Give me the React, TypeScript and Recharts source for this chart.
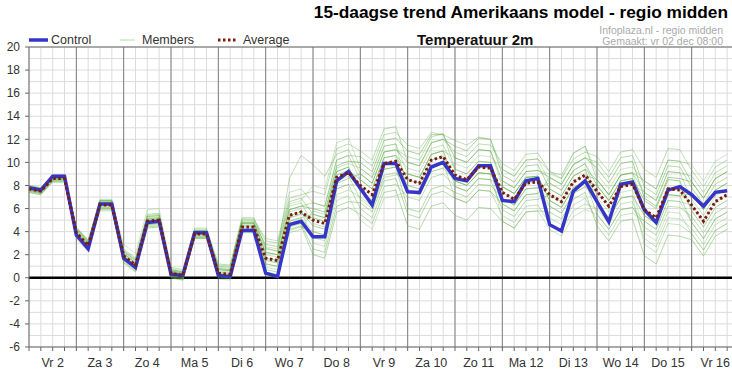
import { LineChart, Line, XAxis, YAxis, CartesianGrid, ReferenceLine } from 'recharts';

// 6-uurs stappen: 4 punten per dag, vanaf vr 2 dec 00:00
const dayLabels = ['Vr 2', 'Za 3', 'Zo 4', 'Ma 5', 'Di 6', 'Wo 7', 'Do 8', 'Vr 9', 'Za 10', 'Zo 11', 'Ma 12', 'Di 13', 'Wo 14', 'Do 15', 'Vr 16'];
const yTicks = [-6, -4, -2, 0, 2, 4, 6, 8, 10, 12, 14, 16, 18, 20];

const control = [
  7.8, 7.6, 8.8, 8.8, 3.7, 2.5, 6.4, 6.4, 1.7, 0.9, 4.8, 4.9, 0.3, 0.2, 3.9, 3.9, 0.2, 0.1, 4.1, 4.1,
  0.4, 0.1, 4.6, 4.9, 3.55, 3.55, 8.4, 9.2, 7.75, 6.3, 9.9, 9.9, 7.45, 7.4, 9.6, 10.0, 8.6, 8.4, 9.7, 9.7,
  6.7, 6.6, 8.4, 8.6, 4.6, 4.05, 7.5, 8.4, 6.6, 4.85, 8.1, 8.3, 5.9, 4.8, 7.6, 7.9, 7.2, 6.2, 7.4, 7.55,
];

const average = [
  7.7, 7.5, 8.6, 8.6, 3.9, 2.8, 6.3, 6.3, 1.9, 1.1, 4.9, 5.0, 0.4, 0.2, 3.8, 3.8, 0.4, 0.3, 4.4, 4.4,
  1.7, 1.5, 5.4, 5.7, 5.0, 4.7, 8.7, 9.1, 8.0, 7.2, 9.9, 10.1, 8.5, 8.2, 10.2, 10.5, 8.9, 8.5, 9.6, 9.5,
  7.4, 6.8, 8.2, 8.3, 7.2, 6.6, 8.3, 8.9, 7.5, 6.2, 7.9, 8.1, 5.9, 5.2, 7.7, 7.6, 6.3, 4.9, 6.6, 7.2,
];

const m01 = [7.9, 7.7, 8.8, 8.8, 4.2, 3.1, 6.6, 6.6, 2.4, 1.6, 5.4, 5.5, 0.6, 0.4, 4.0, 4.0, 1.0, 0.9, 5.0, 5.0, 3.2, 3.0, 6.9, 7.2, 7.5, 7.2, 11.2, 11.6, 11.0, 10.2, 12.9, 13.1, 10.0, 9.7, 11.7, 12.0, 10.9, 10.5, 11.6, 11.5, 9.9, 9.3, 10.7, 10.8, 9.2, 8.6, 10.3, 10.9, 10.5, 9.2, 10.9, 11.1, 9.4, 8.7, 11.2, 11.1, 9.3, 7.9, 9.6, 10.2];
const m02 = [7.5, 7.3, 8.4, 8.4, 3.6, 2.5, 6.0, 6.0, 1.3, 0.5, 4.3, 4.4, 0.0, -0.2, 3.4, 3.4, 0.1, 0.0, 4.1, 4.1, 0.5, 0.3, 4.2, 4.5, 2.0, 1.7, 5.7, 6.1, 5.5, 4.7, 7.4, 7.6, 4.5, 4.2, 6.2, 6.5, 5.4, 5.0, 6.1, 6.0, 4.9, 4.3, 5.7, 5.8, 5.7, 5.1, 6.8, 7.4, 4.5, 3.2, 4.9, 5.1, 1.9, 1.2, 3.7, 3.6, 3.3, 1.9, 3.6, 4.2];
const m03 = [7.7, 7.5, 8.6, 8.6, 4.3, 3.2, 6.7, 6.7, 2.1, 1.3, 5.1, 5.2, 0.7, 0.5, 4.1, 4.1, 0.7, 0.6, 4.7, 4.7, 2.2, 2.0, 5.9, 6.2, 6.0, 5.7, 9.7, 10.1, 10.0, 9.2, 11.9, 12.1, 11.0, 10.7, 12.4, 12.4, 10.4, 10.0, 11.1, 11.0, 8.4, 7.8, 9.2, 9.3, 8.7, 8.1, 9.8, 10.4, 9.5, 8.2, 9.9, 10.1, 6.9, 6.2, 8.7, 8.6, 8.3, 6.9, 8.6, 9.2];
const m04 = [7.6, 7.4, 8.5, 8.5, 3.4, 2.3, 5.8, 5.8, 1.5, 0.7, 4.5, 4.6, 0.2, 0.0, 3.6, 3.6, -0.1, -0.2, 3.9, 3.9, 0.9, 0.7, 4.6, 4.9, 3.5, 3.2, 7.2, 7.6, 7.0, 6.2, 8.9, 9.1, 8.0, 7.7, 9.7, 10.0, 6.9, 6.5, 7.6, 7.5, 5.4, 4.8, 6.2, 6.3, 4.7, 4.1, 5.8, 6.4, 6.0, 4.7, 6.4, 6.6, 3.4, 2.7, 5.2, 5.1, 4.3, 2.9, 4.6, 5.2];
const m05 = [8.0, 7.8, 8.9, 8.9, 4.1, 3.0, 6.5, 6.5, 2.9, 2.1, 5.9, 6.0, 0.8, 0.6, 4.2, 4.2, 0.9, 0.8, 4.9, 4.9, 2.7, 2.5, 6.4, 6.7, 8.0, 7.7, 11.7, 12.1, 9.5, 8.7, 11.4, 11.6, 9.0, 8.7, 10.7, 11.0, 8.4, 8.0, 9.1, 9.0, 8.4, 7.8, 9.2, 9.3, 9.0, 8.6, 10.8, 11.4, 9.0, 7.7, 9.4, 9.6, 8.4, 7.7, 10.2, 10.1, 9.8, 8.4, 10.1, 10.7];
const m06 = [7.7, 7.5, 8.6, 8.6, 3.9, 2.8, 6.3, 6.3, 1.9, 1.1, 4.9, 5.0, 0.5, 0.3, 3.9, 3.9, 0.4, 0.3, 4.4, 4.4, 1.7, 1.5, 5.4, 5.7, 4.5, 4.2, 8.2, 8.6, 9.0, 8.2, 10.9, 11.1, 10.0, 9.7, 11.7, 12.0, 11.4, 11.0, 12.1, 12.0, 8.9, 8.3, 9.7, 9.8, 7.7, 7.1, 8.8, 9.4, 6.5, 5.2, 6.9, 7.1, 5.4, 4.7, 7.2, 7.1, 7.3, 5.9, 7.6, 8.2];
const m07 = [7.4, 7.2, 8.3, 8.3, 3.7, 2.6, 6.1, 6.1, 1.6, 0.8, 4.6, 4.7, 0.1, -0.1, 3.5, 3.5, 0.0, -0.1, 4.0, 4.0, 0.4, 0.2, 4.1, 4.4, 4.0, 3.7, 7.7, 8.1, 6.0, 5.2, 7.9, 8.1, 7.0, 6.7, 8.7, 9.0, 7.9, 7.5, 8.6, 8.5, 7.9, 7.3, 8.7, 8.8, 6.7, 6.1, 7.8, 8.4, 5.5, 4.2, 5.9, 6.1, 4.4, 3.7, 6.2, 6.1, 5.3, 3.9, 5.6, 6.2];
const m08 = [7.8, 7.6, 8.7, 8.7, 4.4, 3.3, 6.8, 6.8, 2.3, 1.5, 5.3, 5.4, 0.6, 0.4, 4.0, 4.0, 1.1, 1.0, 5.1, 5.1, 3.4, 3.2, 7.4, 7.7, 6.5, 6.2, 10.2, 10.6, 8.5, 7.7, 10.4, 10.6, 9.5, 9.2, 11.2, 11.5, 9.4, 9.0, 10.1, 10.0, 6.4, 5.8, 7.2, 7.3, 6.2, 5.6, 7.3, 7.9, 7.5, 6.2, 7.9, 8.1, 7.4, 6.7, 9.2, 9.1, 6.8, 5.4, 7.1, 7.7];
const m09 = [7.6, 7.4, 8.5, 8.5, 3.9, 2.8, 6.3, 6.3, 1.7, 0.9, 4.7, 4.8, 0.3, 0.1, 3.7, 3.7, 0.2, 0.1, 4.2, 4.2, 1.2, 1.0, 4.9, 5.2, 5.5, 5.2, 9.2, 9.6, 7.5, 6.7, 9.4, 9.6, 6.0, 5.7, 7.7, 8.0, 7.4, 7.0, 8.1, 8.0, 6.9, 6.3, 7.7, 7.8, 8.2, 7.6, 9.3, 9.9, 8.0, 6.7, 8.4, 8.6, 5.4, 4.7, 7.2, 7.1, 4.8, 3.4, 5.1, 5.7];
const m10 = [7.9, 7.7, 8.8, 8.8, 3.6, 2.5, 6.0, 6.0, 2.1, 1.3, 5.1, 5.2, 0.4, 0.2, 3.8, 3.8, 0.6, 0.5, 4.6, 4.6, 2.0, 1.8, 5.7, 6.0, 3.0, 2.7, 6.7, 7.1, 5.0, 4.2, 6.9, 7.1, 7.5, 7.2, 9.2, 9.5, 9.9, 9.5, 10.6, 10.5, 9.4, 8.8, 10.2, 10.3, 8.2, 7.6, 9.3, 9.9, 7.0, 5.7, 7.4, 7.6, 3.9, 3.2, 5.7, 5.6, 3.8, 2.4, 4.1, 4.7];
const m11 = [7.8, 7.6, 8.7, 8.7, 4.2, 3.1, 6.6, 6.6, 2.5, 1.7, 5.5, 5.6, 0.9, 0.7, 4.3, 4.3, 1.2, 1.1, 5.2, 5.2, 2.6, 2.3, 8.6, 10.6, 9.8, 8.8, 10.7, 11.1, 9.0, 8.2, 10.9, 11.1, 10.5, 10.2, 12.2, 12.5, 9.4, 9.0, 10.1, 10.0, 6.9, 6.3, 7.7, 7.8, 7.7, 7.1, 8.8, 9.4, 8.5, 7.2, 8.9, 9.1, 5.9, 5.2, 7.7, 7.6, 7.3, 5.9, 7.6, 8.2];
const m12 = [7.7, 7.5, 8.6, 8.6, 4.0, 2.9, 6.4, 6.4, 1.8, 1.0, 4.8, 4.9, 0.4, 0.2, 3.8, 3.8, 0.5, 0.4, 4.5, 4.5, 1.5, 1.3, 5.2, 5.5, 5.2, 4.9, 8.9, 9.3, 8.5, 7.7, 10.4, 10.6, 8.5, 8.2, 10.2, 10.5, 8.4, 8.0, 9.1, 9.0, 7.9, 7.3, 8.7, 8.8, 6.7, 6.1, 7.8, 8.4, 8.0, 6.7, 8.4, 8.6, 6.7, 6.0, 8.5, 8.4, 5.8, 4.4, 6.1, 6.7];
const m13 = [7.9, 7.7, 8.8, 8.8, 4.0, 2.9, 6.4, 6.4, 2.2, 1.4, 5.2, 5.3, 0.2, 0.0, 3.6, 3.6, 0.7, 0.6, 4.7, 4.7, 2.5, 2.3, 6.2, 6.5, 4.7, 4.4, 8.4, 8.8, 6.8, 6.0, 8.7, 8.9, 9.0, 8.7, 10.7, 11.0, 10.4, 10.0, 11.1, 11.0, 7.9, 7.3, 8.7, 8.8, 5.2, 4.6, 6.3, 6.9, 5.0, 3.7, 5.4, 5.6, 4.9, 4.2, 6.7, 6.6, 6.3, 4.9, 6.6, 7.2];
const m14 = [7.5, 7.3, 8.4, 8.4, 3.5, 2.4, 5.9, 5.9, 1.4, 0.6, 4.4, 4.5, 0.1, -0.1, 3.5, 3.5, 0.2, 0.1, 4.2, 4.2, 0.7, 0.5, 4.4, 4.7, 2.5, 2.2, 6.2, 6.6, 6.5, 5.7, 8.4, 8.6, 5.5, 5.2, 7.2, 7.5, 6.9, 6.5, 7.6, 7.5, 6.4, 5.8, 7.2, 7.3, 8.7, 8.1, 9.8, 10.4, 10.0, 8.7, 10.4, 10.6, 7.9, 7.2, 9.7, 9.6, 7.8, 6.4, 8.1, 8.7];
const m15 = [7.8, 7.6, 8.7, 8.7, 4.1, 3.0, 6.5, 6.5, 2.3, 1.5, 5.3, 5.4, 0.6, 0.4, 4.0, 4.0, 0.8, 0.7, 4.8, 4.8, 2.2, 2.0, 5.9, 6.2, 6.5, 6.2, 10.2, 10.6, 10.5, 9.7, 12.4, 12.6, 11.5, 11.2, 12.6, 12.4, 11.9, 11.5, 12.2, 12.0, 9.4, 8.8, 10.2, 10.3, 9.2, 8.9, 10.8, 11.4, 8.5, 7.2, 8.9, 9.1, 7.4, 6.7, 9.2, 9.1, 8.8, 7.4, 9.1, 9.7];
const m16 = [7.6, 7.4, 8.5, 8.5, 3.7, 2.6, 6.1, 6.1, 1.6, 0.8, 4.6, 4.7, 0.0, -0.2, 3.4, 3.4, 0.3, 0.2, 4.3, 4.3, 1.2, 1.0, 4.9, 5.2, 4.0, 3.7, 7.7, 8.1, 8.0, 7.2, 9.9, 10.1, 8.0, 7.7, 9.7, 10.0, 8.9, 8.5, 9.6, 9.5, 4.9, 4.3, 5.7, 5.8, 4.2, 3.6, 5.3, 5.9, 5.5, 4.2, 5.9, 6.1, 4.9, 4.2, 6.7, 6.6, 4.8, 3.4, 5.1, 5.7];
const m17 = [8.0, 7.8, 8.9, 8.9, 4.3, 3.2, 6.7, 6.7, 2.0, 1.2, 5.0, 5.1, 0.7, 0.5, 4.1, 4.1, 0.8, 0.7, 4.8, 4.8, 2.9, 2.7, 6.6, 6.9, 5.5, 5.2, 9.2, 9.6, 7.5, 6.7, 9.4, 9.6, 9.0, 8.7, 10.7, 11.0, 7.9, 7.5, 8.6, 8.5, 5.9, 5.3, 6.7, 6.8, 7.2, 6.6, 8.3, 8.9, 8.5, 7.2, 8.9, 9.1, 8.4, 7.7, 10.2, 10.1, 8.3, 6.9, 8.6, 9.2];
const m18 = [7.4, 7.2, 8.3, 8.3, 3.8, 2.7, 6.2, 6.2, 1.7, 0.9, 4.7, 4.8, 0.5, 0.3, 3.9, 3.9, 0.1, 0.0, 4.1, 4.1, 0.2, 0.0, 3.9, 4.2, 5.8, 5.5, 9.5, 9.9, 9.5, 8.7, 11.4, 11.6, 7.5, 7.2, 9.2, 9.5, 8.4, 8.0, 9.1, 9.0, 7.4, 6.8, 8.2, 8.3, 6.2, 5.6, 7.3, 7.9, 6.5, 5.2, 6.9, 7.1, 2.9, 2.2, 4.7, 4.6, 3.8, 2.4, 4.1, 4.7];

const members = [m01, m02, m03, m04, m05, m06, m07, m08, m09, m10, m11, m12, m13, m14, m15, m16, m17, m18];
// sommige members donkerder groen, de meeste licht
const memberOpacity = [0.4, 0.45, 0.55, 0.35, 0.3, 0.5, 0.4, 0.35, 0.45, 0.3, 0.4, 0.55, 0.35, 0.45, 0.4, 0.3, 0.45, 0.35];

const rows = control.map((c, i) => {
  const row: Record<string, number> = { t: i, control: c, average: average[i] };
  members.forEach((m, k) => {
    row['m' + k] = m[i];
  });
  return row;
});

const xTicks = Array.from({ length: 61 }, (_, i) => i);
const dayLines = Array.from({ length: 15 }, (_, d) => (d + 1) * 4);
const yGrid = Array.from({ length: 27 }, (_, i) => i - 6);

const FONT = '"Liberation Sans", Arial, sans-serif';
const BLUE = '#3535c8';
const AVG = '#7a1a10';
const GREEN = '#5cb043';

export default function App() {
  return (
    <div
      style={{
        position: 'absolute',
        left: 0,
        top: 0,
        width: 732,
        height: 371,
        overflow: 'hidden',
        background: '#fff',
        fontFamily: FONT,
      }}
    >
      <LineChart
        width={745}
        height={371}
        data={rows}
        margin={{ top: 47, right: 6, bottom: 0, left: 0 }}
        style={{ position: 'absolute', left: 0, top: 0 }}
      >
        <CartesianGrid stroke="#dcdcdc" horizontalValues={yGrid} verticalValues={xTicks} />
        <XAxis
          type="number"
          dataKey="t"
          domain={[0, 60]}
          ticks={xTicks}
          interval={0}
          height={24}
          tickSize={4}
          tickMargin={7}
          stroke="#666"
          tick={{ fill: '#333', fontSize: 12.5 }}
          tickFormatter={(v: number) => (v % 4 === 2 ? dayLabels[(v - 2) / 4] : '')}
        />
        <YAxis
          type="number"
          domain={[-6, 20]}
          ticks={yTicks}
          interval={0}
          width={29}
          tickSize={4}
          tickMargin={5}
          stroke="#666"
          tick={{ fill: '#333', fontSize: 12 }}
        />
        {dayLines.map((x) => (
          <ReferenceLine key={'d' + x} x={x} stroke="#808080" strokeWidth={1} ifOverflow="hidden" />
        ))}
        <ReferenceLine y={20} stroke="#666" />
        <ReferenceLine y={0} stroke="#000" strokeWidth={2.5} />
        {members.map((_, k) => (
          <Line
            key={'m' + k}
            type="linear"
            dataKey={'m' + k}
            stroke={GREEN}
            strokeOpacity={memberOpacity[k]}
            strokeWidth={1}
            dot={false}
            isAnimationActive={false}
          />
        ))}
        <Line type="linear" dataKey="control" stroke={BLUE} strokeWidth={3.5} dot={false} isAnimationActive={false} />
        <Line
          type="linear"
          dataKey="average"
          stroke={AVG}
          strokeWidth={3}
          strokeDasharray="2.5 2.5"
          dot={false}
          isAnimationActive={false}
        />
      </LineChart>

      <div style={{ position: 'absolute', right: 4, top: 3, fontSize: 17.3, lineHeight: '19px', fontWeight: 'bold', color: '#000' }}>
        15-daagse trend Amerikaans model - regio midden
      </div>
      <div style={{ position: 'absolute', left: 417, top: 31, fontSize: 15, lineHeight: '17px', fontWeight: 'bold', color: '#111' }}>
        Temperatuur 2m
      </div>
      <div style={{ position: 'absolute', right: 9, top: 24.5, fontSize: 10.5, lineHeight: '11px', color: '#aaa', textAlign: 'right' }}>
        Infoplaza.nl - regio midden
      </div>
      <div style={{ position: 'absolute', right: 9, top: 36, fontSize: 10.5, lineHeight: '11px', color: '#aaa', textAlign: 'right' }}>
        Gemaakt: vr 02 dec 08:00
      </div>

      {/* legenda */}
      <svg style={{ position: 'absolute', left: 0, top: 32 }} width={300} height={16}>
        <line x1={29} x2={48} y1={8} y2={8} stroke={BLUE} strokeWidth={3.5} />
        <line x1={120} x2={135} y1={8} y2={8} stroke={GREEN} strokeOpacity={0.45} strokeWidth={1} />
        <line x1={218} x2={237} y1={8} y2={8} stroke={AVG} strokeWidth={3} strokeDasharray="2.5 2.5" />
      </svg>
      <div style={{ position: 'absolute', left: 51, top: 32, fontSize: 12.5, lineHeight: '16px', color: '#333' }}>Control</div>
      <div style={{ position: 'absolute', left: 142, top: 32, fontSize: 12.5, lineHeight: '16px', color: '#333' }}>Members</div>
      <div style={{ position: 'absolute', left: 243, top: 32, fontSize: 12.5, lineHeight: '16px', color: '#333' }}>Average</div>
    </div>
  );
}
